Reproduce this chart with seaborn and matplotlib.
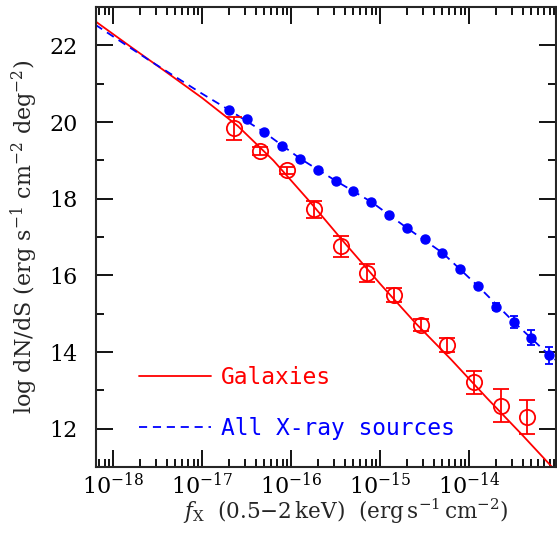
import numpy as np
import pandas as pd
import matplotlib
matplotlib.use('Agg')
import matplotlib.pyplot as plt
from matplotlib.ticker import LogLocator, MultipleLocator, NullFormatter, FixedLocator
import seaborn as sns

# ---- data (log10 flux, log dN/dS) ----
gal_logx = [-16.645, -16.345, -16.045, -15.745, -15.445, -15.145,
            -14.845, -14.545, -14.245, -13.945, -13.645, -13.345]
gal_logn = [19.84, 19.25, 18.74, 17.73, 16.76, 16.07,
            15.48, 14.70, 14.18, 13.21, 12.60, 12.30]
gal_err = [0.30, 0.10, 0.10, 0.22, 0.27, 0.23,
           0.18, 0.16, 0.18, 0.31, 0.43, 0.44]

all_logx = [-16.7, -16.5, -16.3, -16.1, -15.9, -15.7, -15.5, -15.3, -15.1, -14.9,
            -14.7, -14.5, -14.3, -14.1, -13.9, -13.7, -13.5, -13.3, -13.1]
all_logn = [20.31, 20.07, 19.73, 19.38, 19.05, 18.75, 18.47, 18.20, 17.92, 17.58,
            17.24, 16.95, 16.59, 16.17, 15.72, 15.19, 14.79, 14.38, 13.92]
all_err = [0.04, 0.04, 0.04, 0.04, 0.04, 0.04, 0.04, 0.04, 0.04, 0.04,
           0.04, 0.04, 0.04, 0.04, 0.04, 0.08, 0.15, 0.19, 0.22]

# model curves
gal_model_logx = [-18.2, -17.8, -17.4, -17.0, -16.6, -16.2, -15.8,
                  -15.4, -15.0, -14.6, -14.2, -13.8, -13.4, -13.0]
gal_model_logn = [22.63, 21.96, 21.30, 20.63, 19.90, 19.00, 17.95,
                  16.85, 15.78, 14.75, 13.80, 12.80, 11.83, 10.83]
all_model_logx = [-18.2, -17.6, -17.0, -16.7, -16.3, -15.9, -15.5,
                  -15.1, -14.7, -14.3, -13.9, -13.5, -13.1, -13.03]
all_model_logn = [22.54, 21.62, 20.74, 20.32, 19.73, 19.05, 18.47,
                  17.92, 17.24, 16.59, 15.72, 14.79, 13.92, 13.80]

x_major = [1e-18, 1e-17, 1e-16, 1e-15, 1e-14]

RED = '#ff0000'
BLUE = '#0000ff'

sns.set_theme(style='ticks')
plt.rcParams['font.family'] = ['DejaVu Serif']
plt.rcParams['mathtext.fontset'] = 'dejavuserif'
plt.rcParams['axes.linewidth'] = 1.5

gal_model = pd.DataFrame({'flux': 10.0 ** np.array(gal_model_logx), 'logn': gal_model_logn})
all_model = pd.DataFrame({'flux': 10.0 ** np.array(all_model_logx), 'logn': all_model_logn})
gal = pd.DataFrame({'flux': 10.0 ** np.array(gal_logx), 'logn': gal_logn, 'err': gal_err})
allx = pd.DataFrame({'flux': 10.0 ** np.array(all_logx), 'logn': all_logn, 'err': all_err})

fig = plt.figure(figsize=(5.57, 5.47), dpi=100)
ax = fig.add_axes([0.172, 0.146, 0.826, 0.841])

sns.lineplot(data=gal_model, x='flux', y='logn', ax=ax, color=RED, lw=1.3,
             label='Galaxies', sort=False)
sns.lineplot(data=all_model, x='flux', y='logn', ax=ax, color=BLUE, lw=1.3,
             linestyle=(0, (4.5, 3.2)), label='All X-ray sources', sort=False)

ax.errorbar(allx['flux'], allx['logn'], yerr=allx['err'], fmt='o', color=BLUE,
            ms=6.5, elinewidth=1.3, capsize=3, capthick=1.3, zorder=3)
ax.errorbar(gal['flux'], gal['logn'], yerr=gal['err'], fmt='o', mfc='none',
            mec=RED, color=RED, ms=11, mew=1.3, elinewidth=1.3, capsize=6,
            capthick=1.3, zorder=4)

ax.set_xscale('log')
ax.set_xlim(10 ** -18.195, 10 ** -13.026)
ax.set_ylim(11, 23)

ax.yaxis.set_major_locator(MultipleLocator(2))
ax.yaxis.set_minor_locator(MultipleLocator(1))
ax.xaxis.set_major_locator(FixedLocator(x_major))
ax.xaxis.set_minor_locator(LogLocator(base=10, subs=np.arange(2, 10), numticks=20))
ax.xaxis.set_minor_formatter(NullFormatter())

ax.tick_params(which='both', direction='in', top=True, right=True,
               width=1.3, colors='black', labelsize=16)
ax.tick_params(which='major', length=12)
ax.tick_params(which='minor', length=6)
ax.tick_params(axis='x', which='major', pad=4)
ax.tick_params(axis='y', which='major', pad=13)

ax.set_xlabel(r'$f_{\rm X}$  (0.5$-$2$\,$keV)  (erg$\,$s$^{-1}\,$cm$^{-2}$)',
              fontsize=15.5)
ax.xaxis.set_label_coords(0.543, -0.065)
ax.set_ylabel(r'log dN/dS (erg s$^{-1}$ cm$^{-2}$ deg$^{-2}$)', fontsize=16,
              labelpad=7)

leg = ax.legend(loc='lower left', bbox_to_anchor=(0.075, 0.04), frameon=False,
                prop={'family': 'DejaVu Sans Mono', 'size': 16.5},
                handlelength=3.1, handletextpad=0.45, labelspacing=1.2,
                borderaxespad=0, labelcolor='linecolor')

fig.savefig('out.png', dpi=100)
